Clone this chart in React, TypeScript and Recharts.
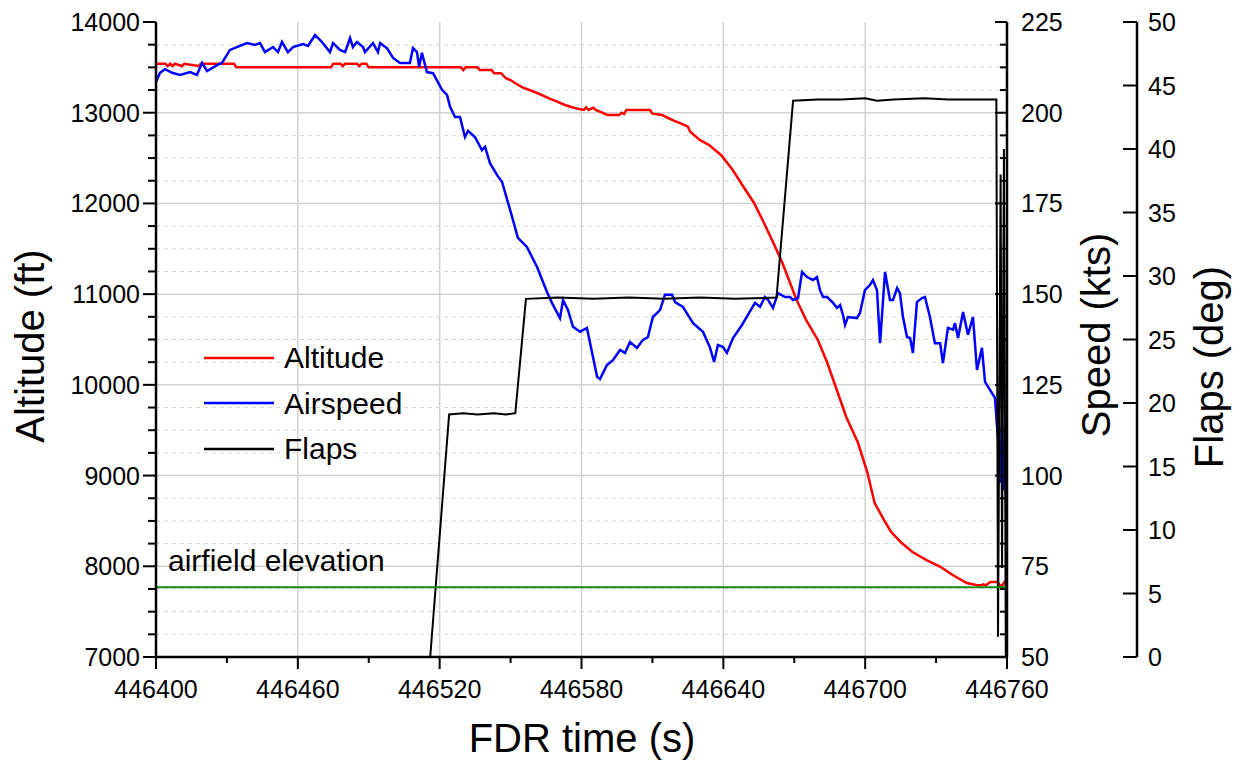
import React from 'react';
import { ComposedChart, Line, XAxis, YAxis, ReferenceLine, Legend } from 'recharts';

const FONT = '"Liberation Sans", Arial, Helvetica, sans-serif';

// axis ticks
const timeMajor = [446400, 446460, 446520, 446580, 446640, 446700, 446760];
const timeMinor = [446430, 446490, 446550, 446610, 446670, 446730];
const altMajor = [7000, 8000, 9000, 10000, 11000, 12000, 13000, 14000];
const speedMajor = [50, 75, 100, 125, 150, 175, 200, 225];
const flapTicks = [0, 5, 10, 15, 20, 25, 30, 35, 40, 45, 50];
const fieldElevation = 7770;
const seriesOrder = ['Altitude', 'Airspeed', 'Flaps'];

const altMinor = altMajor.slice(0, -1).flatMap((v) => [v + 250, v + 500, v + 750]);
const speedMinor = speedMajor.slice(0, -1).flatMap((v) => [v + 6.25, v + 12.5, v + 18.75]);

// Altitude (ft)
const altTime = [
  446400, 446404, 446405, 446406, 446407, 446408, 446411, 446412, 446418, 446419,
  446433, 446434, 446474, 446475, 446478, 446479, 446480, 446485, 446486, 446487,
  446489, 446490, 446529, 446530, 446531, 446536, 446537, 446542, 446543, 446546,
  446548, 446550, 446552, 446555, 446558, 446561, 446564, 446567, 446570, 446573,
  446576, 446579, 446581, 446582, 446583, 446585, 446586, 446588, 446591, 446596,
  446597, 446598, 446599, 446609, 446610, 446614, 446616, 446619, 446622, 446625,
  446626, 446630, 446634, 446639, 446644, 446648, 446653, 446657, 446661, 446665,
  446671, 446675, 446680, 446684, 446688, 446692, 446697, 446701, 446704, 446708,
  446711, 446715, 446720, 446726, 446732, 446737, 446743, 446747, 446749, 446750,
  446751, 446753, 446756, 446757.5, 446759, 446760,
];
const altValue = [
  13540, 13540, 13515, 13540, 13515, 13540, 13515, 13540, 13515, 13540,
  13540, 13500, 13500, 13540, 13540, 13515, 13540, 13540, 13515, 13540,
  13540, 13500, 13500, 13470, 13500, 13500, 13470, 13470, 13435, 13435,
  13380, 13360, 13325, 13280, 13250, 13220, 13185, 13150, 13120, 13085,
  13060, 13040, 13030, 13060, 13030, 13055, 13030, 13010, 12975, 12975,
  13000, 12985, 13030, 13030, 12990, 12975, 12950, 12912, 12883, 12846,
  12790, 12700, 12644, 12534, 12368, 12203, 12005, 11795, 11575, 11343,
  10935, 10715, 10495, 10241, 9943, 9646, 9359, 9028, 8697, 8510,
  8378, 8268, 8157, 8069, 7992, 7904, 7816, 7794, 7790, 7800,
  7790, 7827, 7827, 7771, 7827, 7800,
];

// Airspeed (kts)
const speedTime = [
  446400, 446401.7, 446403.8, 446406.8, 446410.2, 446414.4, 446417.3, 446419.5, 446421.6, 446425.8,
  446427.9, 446431.3, 446435.5, 446438.5, 446441.9, 446444, 446446.1, 446449.5, 446451.6, 446453.3,
  446455.8, 446458, 446462.2, 446464.3, 446467.3, 446470.2, 446473.6, 446474.9, 446477.8, 446480,
  446482.1, 446483.3, 446485, 446487.6, 446488.4, 446491.8, 446493.9, 446494.8, 446497.7, 446500.3,
  446503.2, 446506.2, 446507.4, 446508.7, 446510.4, 446511.3, 446512.5, 446514.6, 446517.2, 446521,
  446523.1, 446524.4, 446526.5, 446528.6, 446530.7, 446532, 446534.9, 446537.9, 446539.2, 446541.3,
  446544.3, 446546.4, 446549.8, 446553.1, 446556.9, 446561.2, 446565.4, 446567.5, 446570.9, 446572.2,
  446574.3, 446576.4, 446579.4, 446582.3, 446586.6, 446587.8, 446590.8, 446593.3, 446596.3, 446598.4,
  446600.5, 446603.5, 446606, 446608.1, 446610.2, 446613.2, 446615.3, 446618.3, 446619.6, 446622.9,
  446627.2, 446631.4, 446634.4, 446636.1, 446637.7, 446639.9, 446641.5, 446644.1, 446647.9, 446650.4,
  446653.4, 446655.5, 446657.6, 446658.9, 446661, 446663.1, 446666.1, 446668.2, 446669.5, 446671.6,
  446673.3, 446675.4, 446677.9, 446679.6, 446680.9, 446682.2, 446683.9, 446686.4, 446688.1, 446689.4,
  446690.6, 446691.5, 446692.7, 446696.5, 446697.8, 446699.9, 446702, 446703.3, 446705, 446706.3,
  446708.4, 446710.5, 446711.8, 446713.5, 446714.7, 446716, 446717.7, 446719, 446720.2, 446721.9,
  446724, 446725.3, 446727.4, 446729.5, 446731.7, 446732.9, 446735, 446737.2, 446738, 446739.3,
  446741.4, 446743.5, 446745.6, 446747.3, 446749.4, 446750.7, 446752.8, 446754.9, 446756.2, 446757,
  446757.9, 446758.7, 446759.6,
];
const speedValue = [
  208.5, 211, 212, 211, 210.4, 211.2, 210.4, 213.7, 211.5, 213.1,
  213.7, 217.3, 218.4, 219.2, 218.7, 219.2, 216.7, 218.1, 216.7, 219.5,
  216.7, 218.1, 218.9, 218.4, 221.4, 219.5, 216.7, 219.2, 217.3, 216.7,
  220.6, 218.1, 219.5, 218.1, 216.7, 219.2, 216.7, 219.2, 217.8, 215.1,
  213.7, 213.7, 213.7, 217.8, 216.7, 212.6, 216.5, 211.2, 210.9, 206.3,
  204.9, 201.6, 198.8, 198.8, 193.3, 195, 193.3, 189.7, 190.6, 186.1,
  182.8, 180.9, 173.2, 165.5, 163, 157.5, 150.6, 147.6, 143.4, 148.4,
  145.6, 141, 139.6, 140.7, 127.2, 126.6, 130.5, 131.8, 134.6, 133.8,
  136.8, 135.2, 137.4, 138.2, 143.7, 145.6, 149.8, 149.8, 147.8, 146.5,
  142, 139.6, 135.2, 131.3, 136, 135.4, 133.8, 137.9, 141.5, 144.3,
  147.6, 146.5, 149.2, 148.4, 146.2, 150.3, 149.2, 149.2, 148.4, 148.9,
  156.1, 154.7, 153.9, 154.7, 151.1, 149.2, 149.2, 147.6, 146.2, 147,
  144.3, 141.5, 143.7, 143.4, 144.8, 151.1, 152.5, 153.9, 151.1, 136.5,
  156.1, 148.4, 148.4, 151.7, 150.3, 143.7, 138.2, 137.9, 133.8, 147.8,
  148.9, 149.2, 143.7, 136.5, 136.5, 131, 140.7, 140.2, 142, 137.9,
  145.1, 138.8, 143.7, 129.1, 135.2, 125.8, 123.6, 121.4, 110, 98,
  115, 96, 105,
];

// Flaps (deg)
const flapTime = [
  446400, 446516, 446524, 446530, 446536, 446543, 446548, 446552, 446556.5, 446570,
  446585, 446600, 446615, 446630, 446645, 446662.5, 446669.5, 446680, 446690, 446700,
  446705, 446712, 446725, 446735, 446745, 446755.5, 446756.2, 446757.3, 446757.9, 446758.7,
  446759.5, 446760,
];
const flapValue = [
  0, 0, 19.1, 19.2, 19.1, 19.2, 19.1, 19.2, 28.2, 28.3,
  28.2, 28.3, 28.2, 28.3, 28.2, 28.3, 43.8, 43.9, 43.9, 44.0,
  43.8, 43.9, 44.0, 43.9, 43.9, 43.9, 1.6, 38, 7, 40,
  0, 0,
];

const altitudeData = altTime.map((t, i) => ({ t, v: altValue[i] }));
const speedData = speedTime.map((t, i) => ({ t, v: speedValue[i] }));
const flapData = flapTime.map((t, i) => ({ t, v: flapValue[i] }));

const AltTick = ({ x, y, payload }: any) => {
  const major = payload.value % 1000 === 0;
  return (
    <g>
      <line x1={x - (major ? 13 : 8)} x2={x} y1={y} y2={y} stroke="#000" strokeWidth={2} />
      {major && (
        <text x={x - 16} y={y + 9} textAnchor="end" fontSize={25} fontFamily={FONT} fill="#000">
          {payload.value}
        </text>
      )}
    </g>
  );
};

const SpeedTick = ({ x, y, payload }: any) => {
  const major = payload.value % 25 === 0;
  return (
    <g>
      <line x1={x - (major ? 12 : 7)} x2={x} y1={y} y2={y} stroke="#000" strokeWidth={2} />
      {major && (
        <text x={x + 14} y={y + 9} textAnchor="start" fontSize={25} fontFamily={FONT} fill="#000">
          {payload.value}
        </text>
      )}
    </g>
  );
};

const FlapTick = ({ x, y, payload }: any) => (
  <g>
    <line x1={x - 14} x2={x} y1={y} y2={y} stroke="#000" strokeWidth={2} />
    <text x={x + 11} y={y + 9} textAnchor="start" fontSize={25} fontFamily={FONT} fill="#000">
      {payload.value}
    </text>
  </g>
);

const TimeTick = ({ x, y, payload }: any) => {
  const major = timeMajor.includes(payload.value);
  return (
    <g>
      <line x1={x} x2={x} y1={y} y2={y + (major ? 12 : 6)} stroke="#000" strokeWidth={2} />
      {major && (
        <text x={x} y={y + 41} textAnchor="middle" fontSize={25} fontFamily={FONT} fill="#000">
          {payload.value}
        </text>
      )}
    </g>
  );
};

const renderLegend = (props: any) => {
  const items = [...(props.payload || [])].sort(
    (a: any, b: any) => seriesOrder.indexOf(a.value) - seriesOrder.indexOf(b.value),
  );
  return (
    <div style={{ fontFamily: FONT }}>
      {items.map((p: any) => (
        <div key={p.value} style={{ display: 'flex', alignItems: 'center', height: 45.5 }}>
          <svg width={72} height={6}>
            <line x1={1} x2={71} y1={3} y2={3} stroke={p.color} strokeWidth={2.5} />
          </svg>
          <span style={{ marginLeft: 9, fontSize: 30, color: '#000', lineHeight: '45px' }}>{p.value}</span>
        </div>
      ))}
    </div>
  );
};

const ElevationLabel = ({ viewBox }: any) => (
  <text x={viewBox.x + 12} y={viewBox.y - 16} fontSize={30} fontFamily={FONT} fill="#000">
    airfield elevation
  </text>
);

const axisLine = { stroke: '#000', strokeWidth: 2.5 };

export default function App() {
  return (
    <div style={{ position: 'absolute', left: 0, top: 0, background: '#fff' }}>
      <ComposedChart width={1245} height={769} margin={{ top: 22, right: 0, bottom: 0, left: 0 }}>
        <XAxis
          xAxisId="t"
          dataKey="t"
          type="number"
          domain={[446400, 446760]}
          ticks={[...timeMajor, ...timeMinor].sort((a, b) => a - b)}
          interval={0}
          allowDataOverflow
          height={112}
          tickSize={0}
          tickMargin={0}
          tickLine={false}
          axisLine={axisLine}
          tick={<TimeTick />}
        />
        <YAxis
          yAxisId="alt"
          orientation="left"
          width={156}
          domain={[7000, 14000]}
          ticks={[...altMajor, ...altMinor].sort((a, b) => a - b)}
          interval={0}
          allowDataOverflow
          tickSize={0}
          tickMargin={0}
          tickLine={false}
          axisLine={axisLine}
          tick={<AltTick />}
        />
        <YAxis
          yAxisId="r1speed"
          orientation="right"
          width={130}
          domain={[50, 225]}
          ticks={[...speedMajor, ...speedMinor].sort((a, b) => a - b)}
          interval={0}
          allowDataOverflow
          tickSize={0}
          tickMargin={0}
          tickLine={false}
          axisLine={axisLine}
          tick={<SpeedTick />}
        />
        <YAxis
          yAxisId="r2flaps"
          orientation="right"
          width={108}
          domain={[0, 50]}
          ticks={flapTicks}
          interval={0}
          allowDataOverflow
          tickSize={0}
          tickMargin={0}
          tickLine={false}
          axisLine={axisLine}
          tick={<FlapTick />}
        />

        {altMinor.map((v) => (
          <ReferenceLine key={'m' + v} xAxisId="t" yAxisId="alt" y={v} stroke="#d8d8d8" strokeWidth={1} strokeDasharray="4 4" />
        ))}
        {altMajor.slice(1, -1).map((v) => (
          <ReferenceLine key={'M' + v} xAxisId="t" yAxisId="alt" y={v} stroke="#d2d2d2" strokeWidth={1.5} />
        ))}
        {timeMajor.slice(1, -1).map((v) => (
          <ReferenceLine key={'x' + v} xAxisId="t" yAxisId="alt" x={v} stroke="#d2d2d2" strokeWidth={1.5} />
        ))}

        <Line
          xAxisId="t"
          yAxisId="alt"
          data={altitudeData}
          dataKey="v"
          name="Altitude"
          type="linear"
          stroke="#ff0000"
          strokeWidth={2.5}
          dot={false}
          isAnimationActive={false}
        />
        <Line
          xAxisId="t"
          yAxisId="r1speed"
          data={speedData}
          dataKey="v"
          name="Airspeed"
          type="linear"
          stroke="#0000ff"
          strokeWidth={2.5}
          dot={false}
          isAnimationActive={false}
        />
        <Line
          xAxisId="t"
          yAxisId="r2flaps"
          data={flapData}
          dataKey="v"
          name="Flaps"
          type="linear"
          stroke="#000000"
          strokeWidth={2}
          dot={false}
          isAnimationActive={false}
        />

        <ReferenceLine
          xAxisId="t"
          yAxisId="alt"
          y={fieldElevation}
          stroke="#138a13"
          strokeWidth={2}
          label={<ElevationLabel />}
        />

        <Legend
          content={renderLegend}
          layout="vertical"
          align="center"
          verticalAlign="middle"
          wrapperStyle={{ left: 203, top: 335, width: 'auto', height: 'auto' }}
        />

        <text x={-346} y={44} transform="rotate(-90)" textAnchor="middle" fontSize={40} fontFamily={FONT} fill="#000">
          Altitude (ft)
        </text>
        <text x={-335} y={1110} transform="rotate(-90)" textAnchor="middle" fontSize={40} fontFamily={FONT} fill="#000">
          Speed (kts)
        </text>
        <text x={-367} y={1223} transform="rotate(-90)" textAnchor="middle" fontSize={40} fontFamily={FONT} fill="#000">
          Flaps (deg)
        </text>
        <text x={582} y={752} textAnchor="middle" fontSize={40} fontFamily={FONT} fill="#000">
          FDR time (s)
        </text>
      </ComposedChart>
    </div>
  );
}
